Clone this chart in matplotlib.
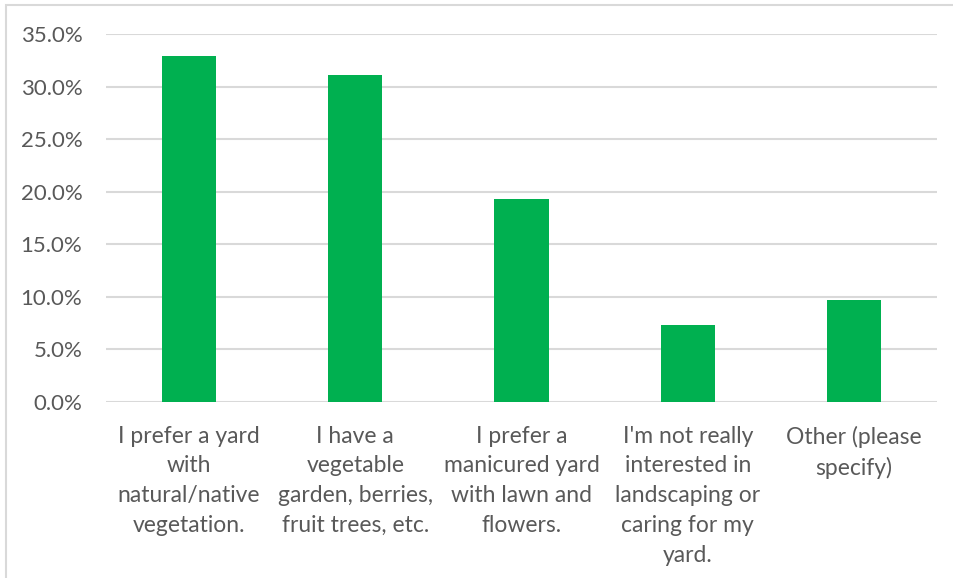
import matplotlib.pyplot as plt
from matplotlib.ticker import FuncFormatter
from matplotlib.patches import Rectangle

categories = [
    "I prefer a yard\nwith\nnatural/native\nvegetation.",
    "I have a\nvegetable\ngarden, berries,\nfruit trees, etc.",
    "I prefer a\nmanicured yard\nwith lawn and\nflowers.",
    "I'm not really\ninterested in\nlandscaping or\ncaring for my\nyard.",
    "Other (please\nspecify)",
]
values = [32.9, 31.1, 19.3, 7.3, 9.7]
y_ticks = [0, 5, 10, 15, 20, 25, 30, 35]

plt.rcParams['font.family'] = ['Lato', 'DejaVu Sans']

fig = plt.figure(figsize=(9.54, 5.78), dpi=100)
ax = fig.add_axes([106 / 954, 1 - 402 / 578, (937 - 106) / 954, (402 - 34) / 578])

x = range(len(categories))
ax.bar(x, values, width=0.325, color='#00B050', zorder=3)

ax.set_xlim(-0.5, len(categories) - 0.5)
ax.set_ylim(0, 35)
ax.set_yticks(y_ticks)
ax.yaxis.set_major_formatter(FuncFormatter(lambda v, p: f"{v:.1f}%"))
ax.grid(axis='y', color='#D9D9D9', linewidth=1.5, zorder=0)
ax.set_xticks(list(x))
ax.set_xticklabels(categories, linespacing=1.52)

for s in ax.spines.values():
    s.set_visible(False)
ax.tick_params(axis='both', length=0, colors='#595959')
ax.tick_params(axis='y', pad=17, labelsize=16)
ax.tick_params(axis='x', pad=17, labelsize=16.5)
for lbl in ax.get_xticklabels():
    lbl.set_verticalalignment('top')
    lbl.set_horizontalalignment('center')
    lbl.set_multialignment('center')

# outer chart border (cropped at right and bottom)
fig.patches.append(Rectangle((6.5 / 954, -0.05), 1.1, 1 - 5.5 / 578 + 0.05,
                             transform=fig.transFigure, fill=False,
                             edgecolor='#D9D9D9', linewidth=1.5))

fig.savefig("out.png", dpi=100)
